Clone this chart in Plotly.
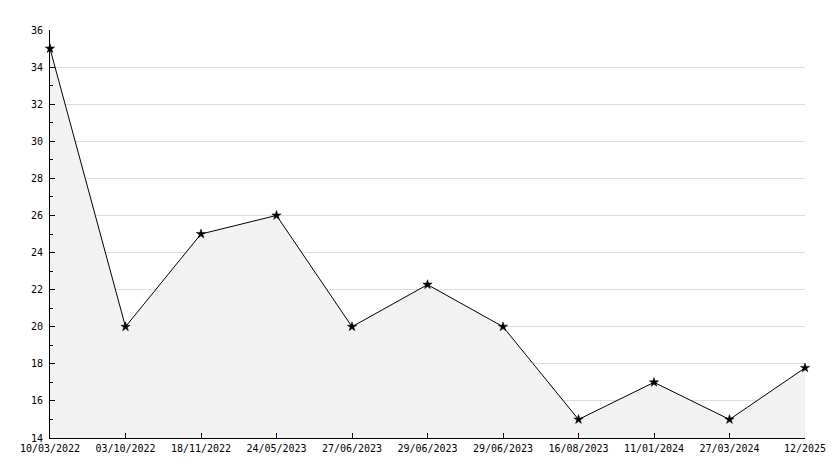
import plotly.graph_objects as go

labels = ["10/03/2022", "03/10/2022", "18/11/2022", "24/05/2023", "27/06/2023",
          "29/06/2023", "29/06/2023", "16/08/2023", "11/01/2024", "27/03/2024", "12/2025"]
values = [35, 20, 25, 26, 20, 22.27, 20, 15, 17, 15, 17.78]
x_idx = list(range(len(labels)))

fig = go.Figure()
fig.add_trace(go.Scatter(
    x=x_idx, y=values, mode="lines+markers",
    fill="tozeroy", fillcolor="#f2f2f2",
    line=dict(color="black", width=1),
    marker=dict(symbol="star", size=7, color="black", line=dict(color="black", width=0.5)),
    showlegend=False, hoverinfo="skip", cliponaxis=False,
))

font = dict(family="DejaVu Sans Mono", size=10, color="black")
# page body has an 8px margin, so the figure is sized/margined to compensate
fig.update_layout(
    width=826, height=460,
    margin=dict(l=42, r=29, t=22, b=30, autoexpand=False),
    paper_bgcolor="white", plot_bgcolor="white",
    font=font,
    xaxis=dict(
        range=[0, len(labels) - 1], tickvals=x_idx, ticktext=labels,
        showgrid=False, zeroline=False, automargin=False,
        showline=True, linecolor="black", linewidth=1,
        ticks="inside", ticklen=5, tickcolor="black",
        tickfont=font, tickangle=0, ticklabelstandoff=1,
    ),
    yaxis=dict(
        range=[14, 36], dtick=2, tick0=14, automargin=False,
        showgrid=True, gridcolor="#dddddd", gridwidth=1, zeroline=False,
        showline=True, linecolor="black", linewidth=1,
        ticks="inside", ticklen=5, tickcolor="black",
        minor=dict(dtick=1, ticks="inside", ticklen=3, tickcolor="black", showgrid=False),
        tickfont=font, ticklabelstandoff=4,
    ),
)
fig.write_html("out.html")
